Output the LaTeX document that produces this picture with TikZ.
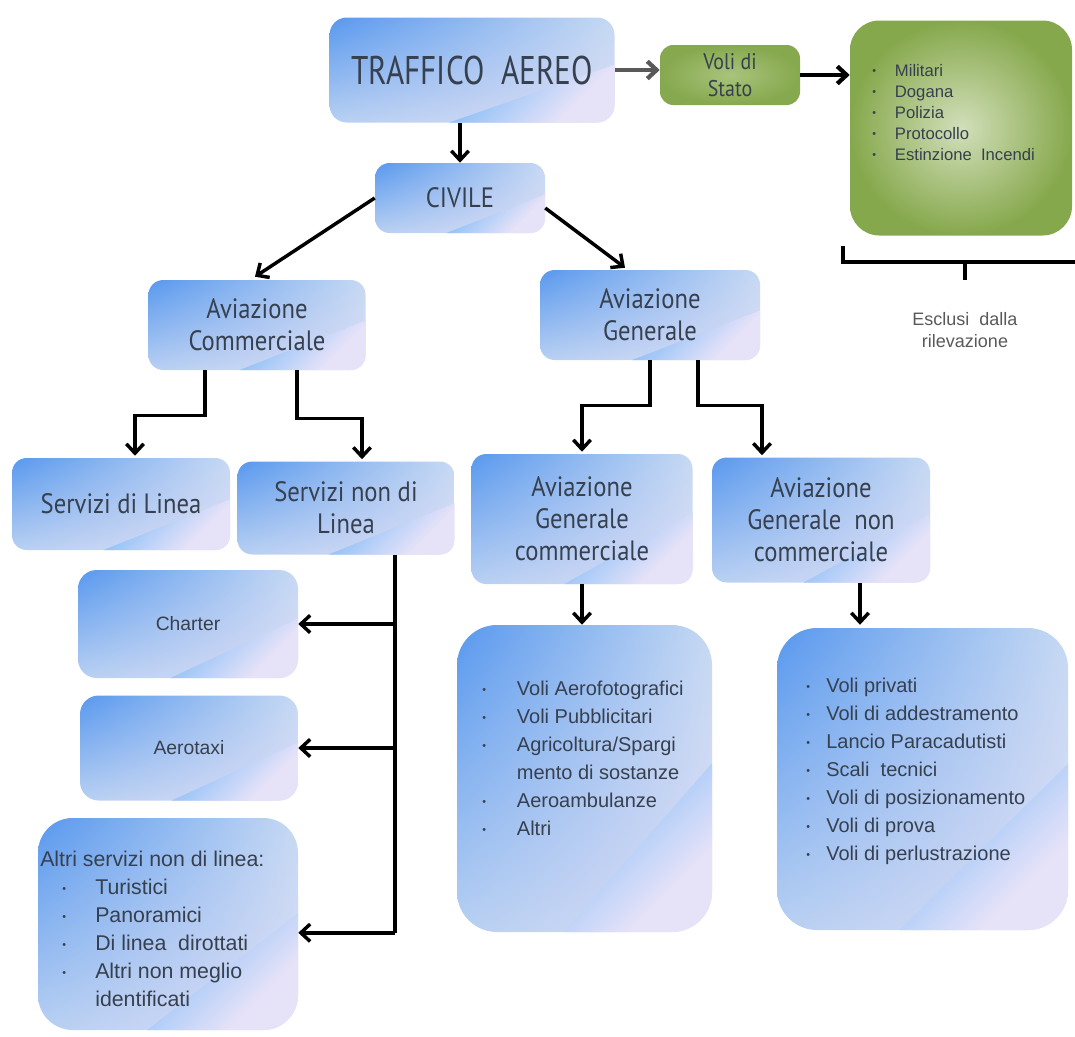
\documentclass[tikz,border=0pt]{standalone}
\usepackage{fontspec}
\setmainfont{Liberation Sans}
\newfontfamily\tfont[FakeStretch=0.88]{PT Sans}
\newfontfamily\bigfont[FakeStretch=0.78]{PT Sans}
\usetikzlibrary{arrows.meta,calc,shadings}
\definecolor{txt}{HTML}{36404E}
\definecolor{bA}{HTML}{5898EE}
\definecolor{bB}{HTML}{C6D9F3}
\definecolor{bC}{HTML}{B8D0F2}
\definecolor{bD}{HTML}{DCDCF5}
\definecolor{sA}{HTML}{78B8F7}
\definecolor{sB}{HTML}{E6E2F8}
\definecolor{gIn}{HTML}{D2DFBA}
\definecolor{gOut}{HTML}{86A84C}
\definecolor{gIn2}{HTML}{A9C47C}
\definecolor{gOut2}{HTML}{86A84E}
\newcommand\blt[1]{\makebox[#1][l]{\raisebox{0.12em}{\fontsize{8}{8}\selectfont\textbullet}}}
\tikzset{
  streak/.style={path picture={
    \shade[sharp corners, top color=sA, bottom color=sB, middle color=sA, shading angle=45]
      ($(path picture bounding box.south west)!0.42!(path picture bounding box.south east)$)
      -- ($(path picture bounding box.north east)!0.45!(path picture bounding box.south east)$)
      -- (path picture bounding box.south east) -- cycle;}},
  bbox/.style={rounded corners=11pt, shade, upper left=bA, upper right=bB,
    lower left=bC, lower right=bD, streak, text=txt, align=center, inner sep=0pt},
  ttl/.style={font=\tfont\fontsize{21}{24}\selectfont},
  small/.style={font=\fontsize{14.5}{18}\selectfont},
  lst/.style={text=txt, align=left, inner sep=0pt, anchor=north west},
  arr/.style={line width=2.6pt, -{Straight Barb[length=7pt,width=13pt]}},
  ln/.style={line width=2.6pt},
}
\begin{document}
\begin{tikzpicture}[x=0.75pt,y=-0.75pt]
\useasboundingbox (0,0) rectangle (1075,1036);
% top row
\node[bbox, minimum width=213.75pt, minimum height=78.75pt, rounded corners=13pt,
      font=\bigfont\fontsize{30}{34}\selectfont] (traffico) at (472,70) {TRAFFICO\ \ AEREO};
\node[rounded corners=10pt, shade, inner color=gIn2, outer color=gOut2, text=txt,
      align=center, inner sep=0pt, minimum width=105pt, minimum height=45pt,
      font=\tfont\fontsize{17}{20}\selectfont] (voli) at (730,75) {Voli di\\Stato};
\node[rounded corners=22pt, shade, inner color=gIn, outer color=gOut,
      minimum width=166.5pt, minimum height=161.25pt] (grn) at (961,128) {};
\node[lst, font=\fontsize{12.5}{15.75}\selectfont] (grnL) at (872,64)
  {\blt{17pt}Militari\\ \blt{17pt}Dogana\\ \blt{17pt}Polizia\\ \blt{17pt}Protocollo\\ \blt{17pt}Estinzione\ \ Incendi};
% bracket
\coordinate (brL) at (843,246);
\coordinate (brM) at (965,262);
\draw[ln] (brL) -- (843,262) -- (1075,262);
\draw[ln] (brM) -- (965,280);
\node[text=black!65, align=center, font=\fontsize{13.5}{16.5}\selectfont] (escl) at (965,330) {Esclusi\ \ dalla\\rilevazione};
% civile level
\node[bbox, ttl, minimum width=127.5pt, minimum height=52.5pt] (civile) at (460,198) {CIVILE};
\node[bbox, ttl, minimum width=162.75pt, minimum height=67.5pt] (avcomm) at (257,325) {Aviazione\\Commerciale};
\node[bbox, ttl, minimum width=165pt, minimum height=67.5pt] (avgen) at (650,315) {Aviazione\\Generale};
% level 3
\node[bbox, ttl, minimum width=163.5pt, minimum height=69pt] (sdl) at (121,504) {Servizi di Linea};
\node[bbox, ttl, minimum width=162.75pt, minimum height=69.75pt] (sndl) at (346,508) {Servizi non di\\Linea};
\node[bbox, ttl, minimum width=165.75pt, minimum height=97.5pt] (agc) at (582,519) {Aviazione\\Generale\\commerciale};
\node[bbox, ttl, minimum width=163.5pt, minimum height=93.75pt] (agnc) at (821,520) {Aviazione\\Generale\ \ non\\commerciale};
% left column
\node[bbox, small, minimum width=165pt, minimum height=81pt, rounded corners=14pt] (charter) at (188,624) {Charter};
\node[bbox, small, minimum width=163.5pt, minimum height=78.75pt, rounded corners=14pt] (aerotaxi) at (189,748) {Aerotaxi};
\node[bbox, minimum width=195pt, minimum height=159pt, rounded corners=26pt] (altri) at (168,924) {};
\node[lst, font=\fontsize{16}{21}\selectfont] (altriL) at (40,851)
  {Altri servizi non di linea:\\ \hspace*{16.5pt}\blt{24.75pt}Turistici\\ \hspace*{16.5pt}\blt{24.75pt}Panoramici\\ \hspace*{16.5pt}\blt{24.75pt}Di linea\ \ dirottati\\ \hspace*{16.5pt}\blt{24.75pt}Altri non meglio\\ \hspace*{41.25pt}identificati};
% lists
\node[bbox, minimum width=191.25pt, minimum height=230.25pt, rounded corners=30pt] (agcB) at (584.5,778.5) {};
\node[lst, font=\fontsize{15}{21}\selectfont] (agcL) at (482,681)
  {\blt{26pt}Voli Aerofotografici\\ \blt{26pt}Voli Pubblicitari\\ \blt{26pt}Agricoltura/Spargi\\ \hspace*{26pt}mento di sostanze\\ \blt{26pt}Aeroambulanze\\ \blt{26pt}Altri};
\node[bbox, minimum width=218.25pt, minimum height=226.5pt, rounded corners=30pt] (agncB) at (922.5,779) {};
\node[lst, font=\fontsize{15}{21}\selectfont] (agncL) at (806,678)
  {\blt{15pt}Voli privati\\ \blt{15pt}Voli di addestramento\\ \blt{15pt}Lancio Paracadutisti\\ \blt{15pt}Scali\ \ tecnici\\ \blt{15pt}Voli di posizionamento\\ \blt{15pt}Voli di prova\\ \blt{15pt}Voli di perlustrazione};
% connectors
\draw[arr, draw=black!65, line width=3.2pt] (traffico.east) -- (traffico.east -| voli.west);
\draw[arr, line width=3.2pt] (voli.east) -- (voli.east -| grn.west);
\draw[arr] (traffico.south -| civile.north) -- (civile.north);
\draw[arr] (civile.west) -- ($(avcomm.north)+(-2,-3)$);
\draw[arr] ($(civile.east)+(0,10)$) -- ($(avgen.north)+(-25,-2)$);
\draw[arr] ($(avcomm.south)+(-52,0)$) -- ++(0,45) -| ($(sdl.north)+(14,-2)$);
\draw[arr] ($(avcomm.south)+(40,0)$) -- ++(0,48) -| ($(sndl.north)+(16,-2)$);
\draw[arr] (avgen.south) -- ++(0,45) -| ($(agc.north)+(0,-2)$);
\draw[arr] ($(avgen.south)+(48,0)$) -- ++(0,45) -| ($(agnc.north)+(-59,-2)$);
\coordinate (trunk) at ($(sndl.south)+(49,0)$);
\coordinate (trunkEnd) at ($(trunk)+(0,378)$);
\draw[ln] (trunk) -- (trunkEnd);
\draw[arr] (trunk |- charter.east) -- (charter.east);
\draw[arr] (trunk |- aerotaxi.east) -- (aerotaxi.east);
\draw[arr] (trunkEnd) -- (trunkEnd -| altri.east);
\draw[arr] (agc.south) -- (agc.south |- agcB.north);
\draw[arr] ($(agnc.south)+(39,0)$) -- ($(agnc.south)+(39,42)$);
\end{tikzpicture}
\end{document}
